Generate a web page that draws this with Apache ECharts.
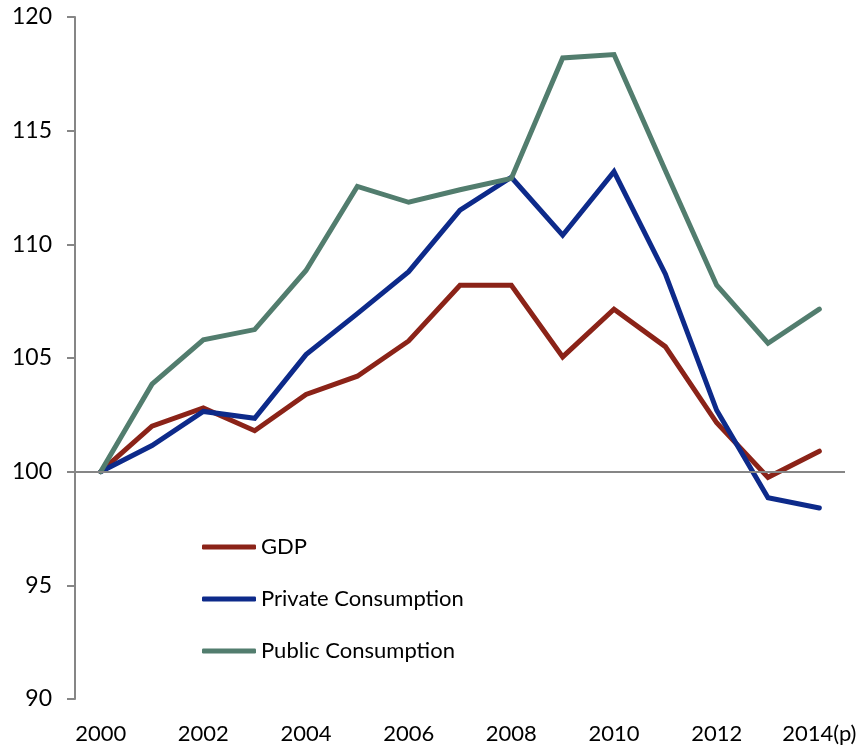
<!DOCTYPE html>
<html>
<head>
<meta charset="utf-8">
<script src="https://cdn.jsdelivr.net/npm/echarts@6/dist/echarts.min.js"></script>
<style>html,body{margin:0;padding:0;background:#fff}#c{width:865px;height:749px}</style>
</head>
<body>
<div id="c"></div>
<script>
const years = ['2000','2001','2002','2003','2004','2005','2006','2007','2008','2009','2010','2011','2012','2013','2014(p)'];
const gdp = [100, 102.0, 102.8, 101.8, 103.4, 104.2, 105.75, 108.2, 108.2, 105.05, 107.15, 105.5, 102.15, 99.75, 100.9];
const privateCons = [100, 101.15, 102.65, 102.35, 105.15, 106.95, 108.8, 111.5, 112.95, 110.4, 113.2, 108.7, 102.7, 98.85, 98.4];
const publicCons = [100, 103.85, 105.8, 106.25, 108.85, 112.55, 111.85, 112.4, 112.9, 118.2, 118.35, 113.25, 108.2, 105.65, 107.15];
const yTicks = {min: 90, max: 120, interval: 5};
const names = ['GDP', 'Private Consumption', 'Public Consumption'];
const colors = ['#8B2318', '#0D2A8A', '#527D6E'];

const FONT = 'Lato';
const chart = echarts.init(document.getElementById('c'), null, {renderer: 'canvas'});
const mk = (name, data, color) => ({
  name, type: 'line', data, symbol: 'none', z: 3,
  lineStyle: {color, width: 5, cap: 'round', join: 'miter'},
  itemStyle: {color}
});
chart.setOption({
  animation: false,
  backgroundColor: '#fff',
  grid: {left: 75, right: 20, top: 17, bottom: 50, containLabel: false},
  legend: {
    orient: 'vertical', left: 197, top: 531,
    data: names.map((n) => ({name: n, icon: 'roundRect'})),
    itemWidth: 54, itemHeight: 5, itemGap: 30,
    textStyle: {fontFamily: FONT, fontSize: 22, color: '#000'}
  },
  xAxis: {
    type: 'category', data: years, boundaryGap: true,
    axisLine: {show: false}, axisTick: {show: false},
    axisLabel: {interval: 1, fontFamily: FONT, fontSize: 22, color: '#000', margin: 24}
  },
  yAxis: {
    type: 'value', min: yTicks.min, max: yTicks.max, interval: yTicks.interval,
    axisLine: {show: true, lineStyle: {color: '#868686', width: 2}},
    axisTick: {show: true, length: 8, lineStyle: {color: '#868686', width: 2}},
    splitLine: {show: false},
    axisLabel: {fontFamily: FONT, fontSize: 23, color: '#000', margin: 23}
  },
  series: [
    {type: 'line', data: [], z: 1, silent: true,
     markLine: {silent: true, symbol: 'none', label: {show: false},
       lineStyle: {color: '#868686', width: 2, type: 'solid'}, data: [{yAxis: 100}]}},
    mk(names[0], gdp, colors[0]),
    mk(names[1], privateCons, colors[1]),
    mk(names[2], publicCons, colors[2])
  ]
});
</script>
</body>
</html>
